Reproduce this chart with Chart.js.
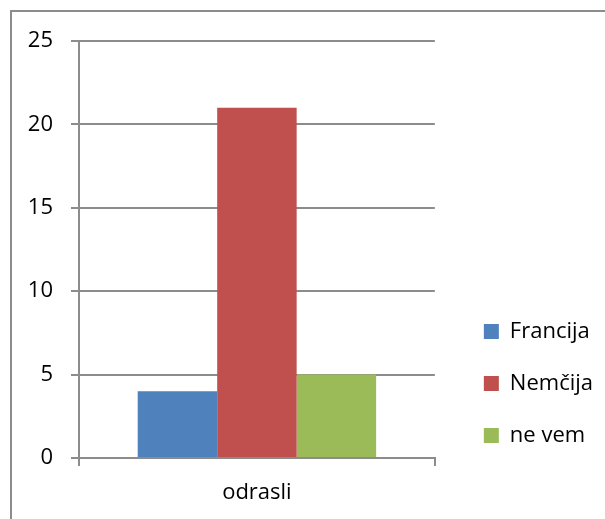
<!DOCTYPE html>
<html>
<head>
<meta charset="utf-8">
<script src="https://cdn.jsdelivr.net/npm/chart.js@4"></script>
<style>
  body { margin: 0; background: #fff; }
  canvas { display: block; }
</style>
</head>
<body>
<canvas id="chart" width="605" height="519"></canvas>
<script>
// data
const categories = ['odrasli'];
const seriesNames = ['Francija', 'Nemčija', 'ne vem'];
const francija = [4];
const nemcija = [21];
const neVem = [5];
const yTicks = [0, 5, 10, 15, 20, 25];

const colors = ['#4F81BD', '#C0504D', '#9BBB59'];
const lineGrey = '#8c8c8c';

Chart.defaults.font.family = "'Open Sans', sans-serif";
Chart.defaults.font.size = 22;
Chart.defaults.color = '#000';

// outer frame (only top and left edges show in the picture)
const framePlugin = {
    id: 'frame',
    beforeDraw(chart) {
        const c = chart.ctx;
        c.save();
        c.strokeStyle = lineGrey;
        c.lineWidth = 2;
        c.beginPath();
        c.moveTo(11, 530);
        c.lineTo(11, 11);
        c.lineTo(620, 11);
        c.stroke();
        c.restore();
    }
};

let ctx = document.getElementById('chart').getContext('2d');
let chart = new Chart(ctx, {
    type: 'bar',
    data: {
        labels: categories,
        datasets: [
            { label: seriesNames[0], data: francija, backgroundColor: colors[0] },
            { label: seriesNames[1], data: nemcija, backgroundColor: colors[1] },
            { label: seriesNames[2], data: neVem, backgroundColor: colors[2] }
        ]
    },
    options: {
        responsive: false,
        animation: false,
        layout: { padding: { top: 41, left: 0, right: 2, bottom: 8 } },
        datasets: {
            bar: { categoryPercentage: 0.67, barPercentage: 1 }
        },
        plugins: {
            tooltip: { enabled: false },
            legend: {
                position: 'right',
                align: 'start',
                maxWidth: 220,
                // empty title only pushes the entries down
                title: { display: true, text: '', padding: { top: 223, bottom: 0 } },
                labels: {
                    boxWidth: 15,
                    boxHeight: 15,
                    padding: 30,
                    color: '#000'
                }
            }
        },
        scales: {
            x: {
                grid: {
                    drawOnChartArea: false,
                    tickLength: 8,
                    color: lineGrey,
                    lineWidth: 2
                },
                border: { color: lineGrey, width: 2 },
                ticks: { padding: 14 },
                afterFit(s) { s.height = 53; }
            },
            y: {
                min: 0,
                max: 25,
                afterBuildTicks(s) { s.ticks = yTicks.map(v => ({ value: v })); },
                grid: { color: lineGrey, lineWidth: 2, tickLength: 8 },
                border: { color: lineGrey, width: 2 },
                ticks: { padding: 18 },
                afterFit(s) { s.width = 79; }
            },
            // empty gap between the plot and the legend
            gap: {
                type: 'linear',
                position: 'right',
                grid: { display: false },
                border: { display: false },
                ticks: { display: false },
                afterFit(s) { s.width = 19; }
            }
        }
    },
    plugins: [framePlugin]
});
</script>
</body>
</html>
